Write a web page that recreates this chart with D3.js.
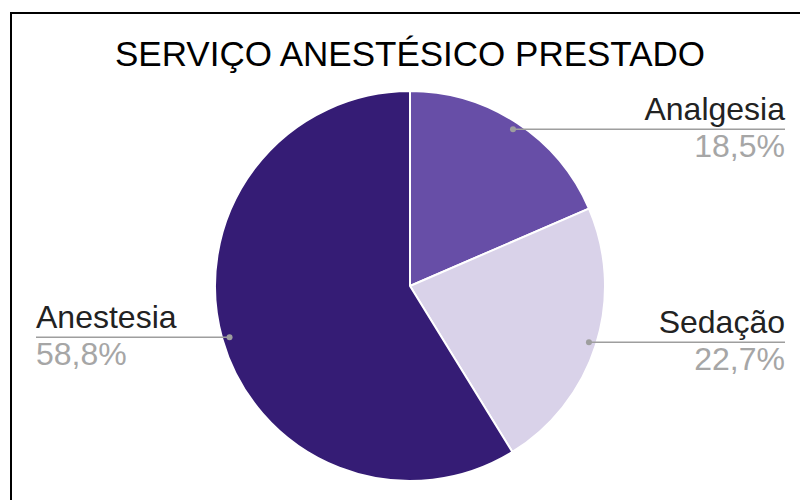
<!DOCTYPE html>
<html>
<head>
<meta charset="utf-8">
<script src="https://cdn.jsdelivr.net/npm/d3@7/dist/d3.min.js"></script>
<style>
  html, body { margin: 0; padding: 0; background: #fff; }
  svg { display: block; }
  text { font-family: "Liberation Sans", Arial, sans-serif; }
</style>
</head>
<body>
<svg id="chart" width="800" height="500"></svg>
<script>
// Service type shares (%)
const categories = ["Analgesia", "Sedação", "Anestesia"];
const values = [18.5, 22.7, 58.8];
const valueLabels = ["18,5%", "22,7%", "58,8%"];
const colors = ["#674ea7", "#d9d2e9", "#351c75"];
const title = "SERVIÇO ANESTÉSICO PRESTADO";

const svg = d3.select("#chart");

// frame
svg.append("path")
  .attr("d", "M11,501 V13 H801")
  .attr("fill", "none")
  .attr("stroke", "#000")
  .attr("stroke-width", 2);

svg.append("text")
  .attr("x", 410)
  .attr("y", 66)
  .attr("text-anchor", "middle")
  .attr("font-size", 35)
  .attr("fill", "#000")
  .text(title);

const cx = 410, cy = 286, r = 195;
const g = svg.append("g").attr("transform", `translate(${cx},${cy})`);

const data = categories.map((c, i) => ({ name: c, value: values[i], label: valueLabels[i], color: colors[i] }));
const pie = d3.pie().value(d => d.value).sort(null);
const arcs = pie(data);
const arc = d3.arc().innerRadius(0).outerRadius(r);

g.selectAll("path.slice")
  .data(arcs)
  .enter().append("path")
  .attr("class", "slice")
  .attr("d", arc)
  .attr("fill", d => d.data.color)
  .attr("stroke", "#fff")
  .attr("stroke-width", 2);

// leader lines and labels
const dotR = r * 0.962;
const rightEdge = 785, leftEdge = 36;
arcs.forEach(a => {
  const mid = (a.startAngle + a.endAngle) / 2;
  const px = cx + dotR * Math.sin(mid);
  const py = cy - dotR * Math.cos(mid);
  const right = Math.sin(mid) > 0;
  const ex = right ? rightEdge : leftEdge;
  svg.append("line")
    .attr("x1", px).attr("y1", py)
    .attr("x2", ex).attr("y2", py)
    .attr("stroke", "#9e9e9e")
    .attr("stroke-width", 1.5);
  svg.append("circle")
    .attr("cx", px).attr("cy", py).attr("r", 3)
    .attr("fill", "#9e9e9e");
  const anchor = right ? "end" : "start";
  svg.append("text")
    .attr("x", ex).attr("y", py - 9)
    .attr("text-anchor", anchor)
    .attr("font-size", 32)
    .attr("fill", "#222")
    .text(a.data.name);
  svg.append("text")
    .attr("x", ex).attr("y", py + 28)
    .attr("text-anchor", anchor)
    .attr("font-size", 32)
    .attr("fill", "#a6a6a6")
    .text(a.data.label);
});
</script>
</body>
</html>
